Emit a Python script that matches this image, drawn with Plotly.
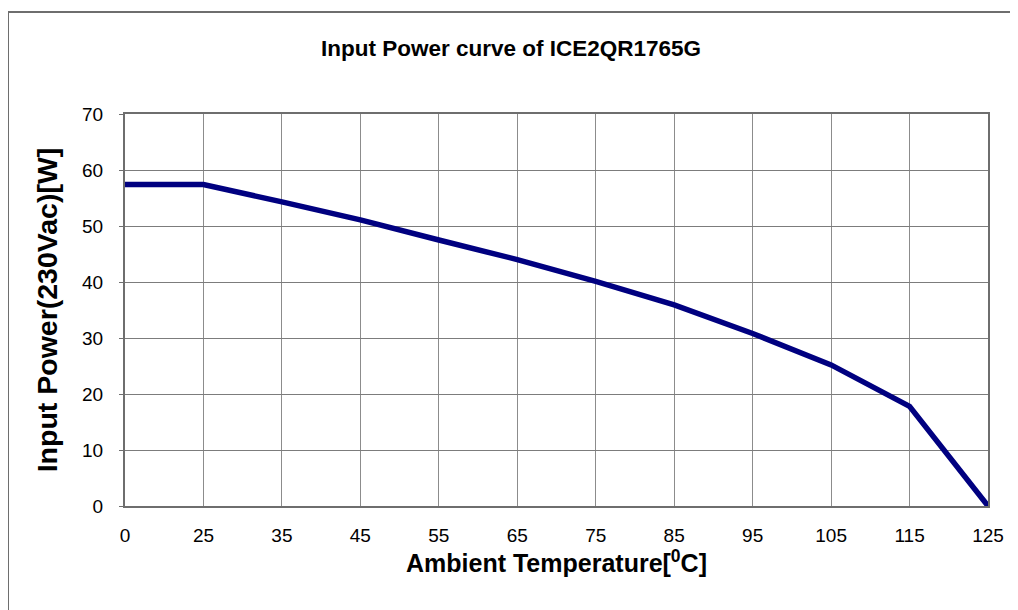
import plotly.graph_objects as go

temps = ["0", "25", "35", "45", "55", "65", "75", "85", "95", "105", "115", "125"]
power = [57.4, 57.4, 54.3, 51.1, 47.5, 44.0, 40.1, 35.9, 30.8, 25.2, 17.8, 0.0]
y_ticks = [0, 10, 20, 30, 40, 50, 60, 70]

# page body adds an 8px offset; compensate so the plot lands where the reference has it
OFF = 8
W, H = 1018 - OFF, 610 - OFF
L, R, T, B = 125 - OFF, 30, 114 - OFF, 104
pw, ph = W - L - R, H - T - B

def px_x(x):
    return (x - OFF - L) / pw

def px_y(y):
    return (H - B - (y - OFF)) / ph

fig = go.Figure()
fig.add_trace(go.Scatter(
    x=temps, y=power, mode="lines",
    line=dict(color="#000080", width=5.5),
    showlegend=False, hoverinfo="x+y",
))

fig.update_layout(
    width=W, height=H,
    margin=dict(l=L, r=R, t=T, b=B),
    paper_bgcolor="white", plot_bgcolor="white",
    font=dict(family="Liberation Sans, Arial, sans-serif", color="black"),
    title=dict(text="<b>Input Power curve of ICE2QR1765G</b>",
               x=(511 - OFF) / W, xanchor="center", y=1 - (48 - OFF) / H, yanchor="middle",
               font=dict(size=22.5)),
    xaxis=dict(
        type="category", categoryorder="array", categoryarray=temps,
        range=[0, len(temps) - 1],
        showgrid=True, gridcolor="#8c8c8c", gridwidth=1,
        showline=True, linecolor="#6e6e6e", linewidth=2, mirror=True,
        ticks="", tickfont=dict(size=19), ticklabelstandoff=11,
        title=dict(text="<b>Ambient Temperature[<sup>0</sup>C]</b>",
                   font=dict(size=25), standoff=7),
    ),
    yaxis=dict(
        range=[0, 70], tickvals=y_ticks, ticktext=[str(v) for v in y_ticks],
        showgrid=True, gridcolor="#7c7c7c", gridwidth=1,
        showline=True, linecolor="#6e6e6e", linewidth=2, mirror=True,
        ticks="outside", ticklen=4, tickcolor="#6e6e6e",
        tickfont=dict(size=19), ticklabelstandoff=12,
        title=dict(text="<b>Input Power(230Vac)[W]</b>",
                   font=dict(size=28.5), standoff=16),
        zeroline=False,
    ),
    shapes=[dict(
        type="rect", xref="paper", yref="paper",
        x0=px_x(8), x1=px_x(1030), y0=px_y(630), y1=px_y(12),
        line=dict(color="#6e6e6e", width=2), fillcolor="rgba(0,0,0,0)",
        layer="below",
    )],
)

fig.write_html("out.html")
